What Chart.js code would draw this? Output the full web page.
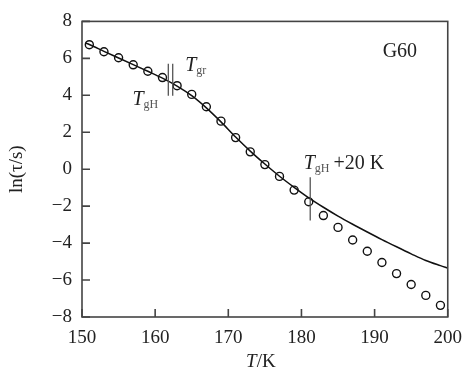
<!DOCTYPE html>
<html>
<head>
<meta charset="utf-8">
<script src="https://cdn.jsdelivr.net/npm/chart.js@4.4.1/dist/chart.umd.min.js"></script>
<style>
html,body{margin:0;padding:0;background:#fff;}
#wrap{width:472px;height:374px;position:relative;}
</style>
</head>
<body>
<div id="wrap"><canvas id="c"></canvas></div>
<script>
// Measured relaxation times (open circles)
const pointT = [151,153,155,157,159,161,163,165,167,169,171,173,175,177,179,181,183,185,187,189,191,193,195,197,199];
const pointLnTau = [6.74,6.36,6.03,5.65,5.30,4.96,4.52,4.05,3.38,2.60,1.71,0.94,0.25,-0.39,-1.13,-1.76,-2.51,-3.15,-3.83,-4.44,-5.05,-5.65,-6.24,-6.83,-7.37];
// Model curve (solid line)
const curveT = [150.5,151,153,155,157,159,161,163,165,167,169,171,173,175,177,179,181,183,185,187,189,191,193,195,197,199,200];
const curveLnTau = [6.83,6.75,6.38,6.02,5.66,5.30,4.93,4.50,3.98,3.32,2.56,1.74,0.98,0.28,-0.38,-0.98,-1.55,-2.06,-2.54,-2.98,-3.40,-3.81,-4.20,-4.58,-4.94,-5.22,-5.35];
// Axis ticks
const xTicks = [150,160,170,180,190,200];
const yTicks = [-8,-6,-4,-2,0,2,4,6,8];
// Annotation markers: [T, ln tau low, ln tau high]
const markerTgH = [161.8, 3.97, 5.71];
const markerTgr = [162.4, 3.97, 5.71];
const markerTgH20 = [181.2, -2.77, -0.43];

const SERIF = '"Liberation Serif", "Times New Roman", serif';
const INK = '#222';

const annot = {
  id: 'annot',
  afterDraw(chart) {
    const {ctx, chartArea: a, scales: {x, y}} = chart;
    ctx.save();
    // frame
    ctx.strokeStyle = '#444';
    ctx.lineWidth = 1.6;
    ctx.strokeRect(a.left, a.top, a.right - a.left, a.bottom - a.top);
    // inward ticks
    ctx.beginPath();
    xTicks.forEach(v => { const px = x.getPixelForValue(v); ctx.moveTo(px, a.bottom); ctx.lineTo(px, a.bottom - 8); });
    yTicks.forEach(v => { const py = y.getPixelForValue(v); ctx.moveTo(a.left, py); ctx.lineTo(a.left + 8, py); });
    ctx.stroke();
    // markers
    ctx.strokeStyle = '#555';
    ctx.lineWidth = 1.3;
    [markerTgH, markerTgr, markerTgH20].forEach(m => {
      const px = x.getPixelForValue(m[0]);
      ctx.beginPath();
      ctx.moveTo(px, y.getPixelForValue(m[1]));
      ctx.lineTo(px, y.getPixelForValue(m[2]));
      ctx.stroke();
    });
    // labels
    ctx.fillStyle = INK;
    ctx.textBaseline = 'alphabetic';
    ctx.textAlign = 'left';
    function sub(T, ln, main, subs, rest) {
      let px = x.getPixelForValue(T), py = y.getPixelForValue(ln);
      ctx.font = 'italic 20px ' + SERIF;
      ctx.fillStyle = INK;
      ctx.fillText(main, px, py);
      px += ctx.measureText(main).width;
      ctx.font = '12px ' + SERIF;
      ctx.fillStyle = '#555';
      ctx.fillText(subs, px, py + 3);
      px += ctx.measureText(subs).width;
      if (rest) {
        ctx.font = '20px ' + SERIF;
        ctx.fillStyle = INK;
        ctx.fillText(rest, px + 4, py);
      }
    }
    sub(164.1, 5.33, 'T', 'gr');
    sub(156.9, 3.47, 'T', 'gH');
    sub(180.3, 0.0, 'T', 'gH', '+20 K');
    ctx.font = '20px ' + SERIF;
    ctx.fillStyle = INK;
    ctx.fillText('G60', x.getPixelForValue(191.1), y.getPixelForValue(6.08));
    // x title
    ctx.font = 'italic 19px ' + SERIF;
    const tW = ctx.measureText('T').width;
    ctx.font = '19px ' + SERIF;
    const kW = ctx.measureText('/K').width;
    const cx = (a.left + a.right) / 2 - 4;
    let sx = cx - (tW + kW) / 2;
    ctx.font = 'italic 19px ' + SERIF;
    ctx.fillText('T', sx, 367);
    ctx.font = '19px ' + SERIF;
    ctx.fillText('/K', sx + tW, 367);
    ctx.restore();
  }
};

new Chart(document.getElementById('c'), {
  type: 'scatter',
  data: {
    datasets: [
      {
        label: 'model',
        data: curveT.map((t, i) => ({x: t, y: curveLnTau[i]})),
        showLine: true,
        borderColor: '#111',
        borderWidth: 1.5,
        pointRadius: 0,
        cubicInterpolationMode: 'monotone',
        fill: false
      },
      {
        label: 'data',
        data: pointT.map((t, i) => ({x: t, y: pointLnTau[i]})),
        showLine: false,
        pointStyle: 'circle',
        pointRadius: 4,
        pointBorderWidth: 1.4,
        pointBorderColor: '#111',
        pointBackgroundColor: 'rgba(255,255,255,0)'
      }
    ]
  },
  plugins: [annot],
  options: {
    responsive: true,
    maintainAspectRatio: false,
    animation: false,
    layout: {padding: {top: 17, right: 20, left: 0, bottom: 0}},
    plugins: {legend: {display: false}, tooltip: {enabled: false}},
    scales: {
      x: {
        type: 'linear', min: 150, max: 200,
        afterFit(s) { s.height = 57; },
        afterBuildTicks(s) { s.ticks = xTicks.map(v => ({value: v})); },
        grid: {display: false, drawTicks: false},
        border: {display: false},
        ticks: {padding: 10, color: INK, font: {family: SERIF, size: 19}, maxRotation: 0}
      },
      y: {
        type: 'linear', min: -8, max: 8,
        afterFit(s) { s.width = 82; },
        afterBuildTicks(s) { s.ticks = yTicks.map(v => ({value: v})); },
        grid: {display: false, drawTicks: false},
        border: {display: false},
        ticks: {padding: 10, color: INK, font: {family: SERIF, size: 19},
          callback: v => (v < 0 ? '\u2212' + Math.abs(v) : String(v))},
        title: {display: true, text: 'ln(\u03c4/s)', color: INK, font: {family: SERIF, size: 19}, padding: {top: 6, bottom: 0}}
      }
    }
  }
});
</script>
</body>
</html>
